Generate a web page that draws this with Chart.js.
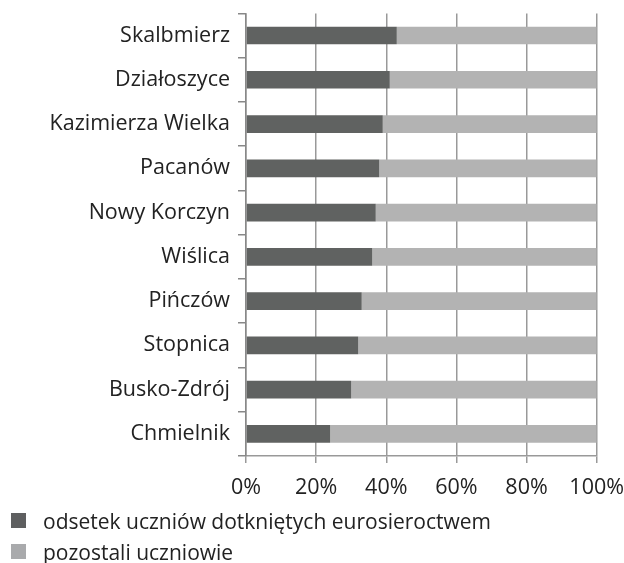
<!DOCTYPE html>
<html>
<head>
<meta charset="utf-8">
<script src="https://cdn.jsdelivr.net/npm/chart.js@4/dist/chart.umd.min.js"></script>
<style>
  html, body { margin: 0; padding: 0; background: #fff; }
  #wrap { position: relative; width: 624px; height: 563px; }
  #c { position: absolute; left: 0; top: 0; }
  #legend { position: absolute; left: 11px; top: 505px; font-family: "Open Sans", sans-serif; font-size: 21px; color: #222; }
  .li { display: flex; align-items: center; height: 31px; white-space: nowrap; }
  .sw { width: 15px; height: 15px; margin-right: 17px; }
</style>
</head>
<body>
<div id="wrap">
  <canvas id="c" width="624" height="563"></canvas>
  <div id="legend"></div>
</div>
<script>
const categories = ["Skalbmierz", "Działoszyce", "Kazimierza Wielka", "Pacanów", "Nowy Korczyn", "Wiślica", "Pińczów", "Stopnica", "Busko-Zdrój", "Chmielnik"];
const seriesNames = ["odsetek uczniów dotkniętych eurosieroctwem", "pozostali uczniowie"];
const affected = [43, 41, 39, 38, 37, 36, 33, 32, 30, 24];
const others = [57, 59, 61, 62, 63, 64, 67, 68, 70, 76];
const xTickLabels = ["0%", "20%", "40%", "60%", "80%", "100%"];

const colors = ["#606261", "#b3b3b3"];
const legendColors = ["#5e5f60", "#a9aaac"];
const fontFamily = "'Open Sans', sans-serif";

const chart = new Chart(document.getElementById('c'), {
  type: 'bar',
  data: {
    labels: categories,
    datasets: [
      { label: seriesNames[0], data: affected, backgroundColor: colors[0], barPercentage: 0.4, categoryPercentage: 1 },
      { label: seriesNames[1], data: others, backgroundColor: colors[1], barPercentage: 0.4, categoryPercentage: 1 }
    ]
  },
  options: {
    indexAxis: 'y',
    responsive: false,
    animation: false,
    layout: { padding: { top: 0, right: 25, bottom: 50, left: 0 } },
    plugins: {
      legend: { display: false },
      tooltip: { enabled: false }
    },
    scales: {
      x: {
        stacked: true,
        min: 0, max: 100,
        ticks: {
          stepSize: 20,
          padding: 0,
          color: '#222',
          maxRotation: 0,
          font: { family: fontFamily, size: 21.5, lineHeight: '50px' },
          callback: (v, i) => xTickLabels[i]
        },
        grid: { color: '#999', lineWidth: 1.5, tickLength: 7 },
        border: { color: '#999', width: 1.5 }
      },
      y: {
        stacked: true,
        afterFit: (s) => { s.width = 246; },
        ticks: {
          padding: 8,
          color: '#222',
          font: { family: fontFamily, size: 21.5, lineHeight: 0.5 }
        },
        grid: { offset: true, drawOnChartArea: false, color: '#888', lineWidth: 1.5, tickLength: 8 },
        border: { color: '#888', width: 1.5 }
      }
    }
  }
});

const lg = document.getElementById('legend');
seriesNames.forEach((n, i) => {
  const row = document.createElement('div'); row.className = 'li';
  const sw = document.createElement('div'); sw.className = 'sw'; sw.style.background = legendColors[i];
  const t = document.createElement('span'); t.textContent = n;
  row.appendChild(sw); row.appendChild(t); lg.appendChild(row);
});
</script>
</body>
</html>
